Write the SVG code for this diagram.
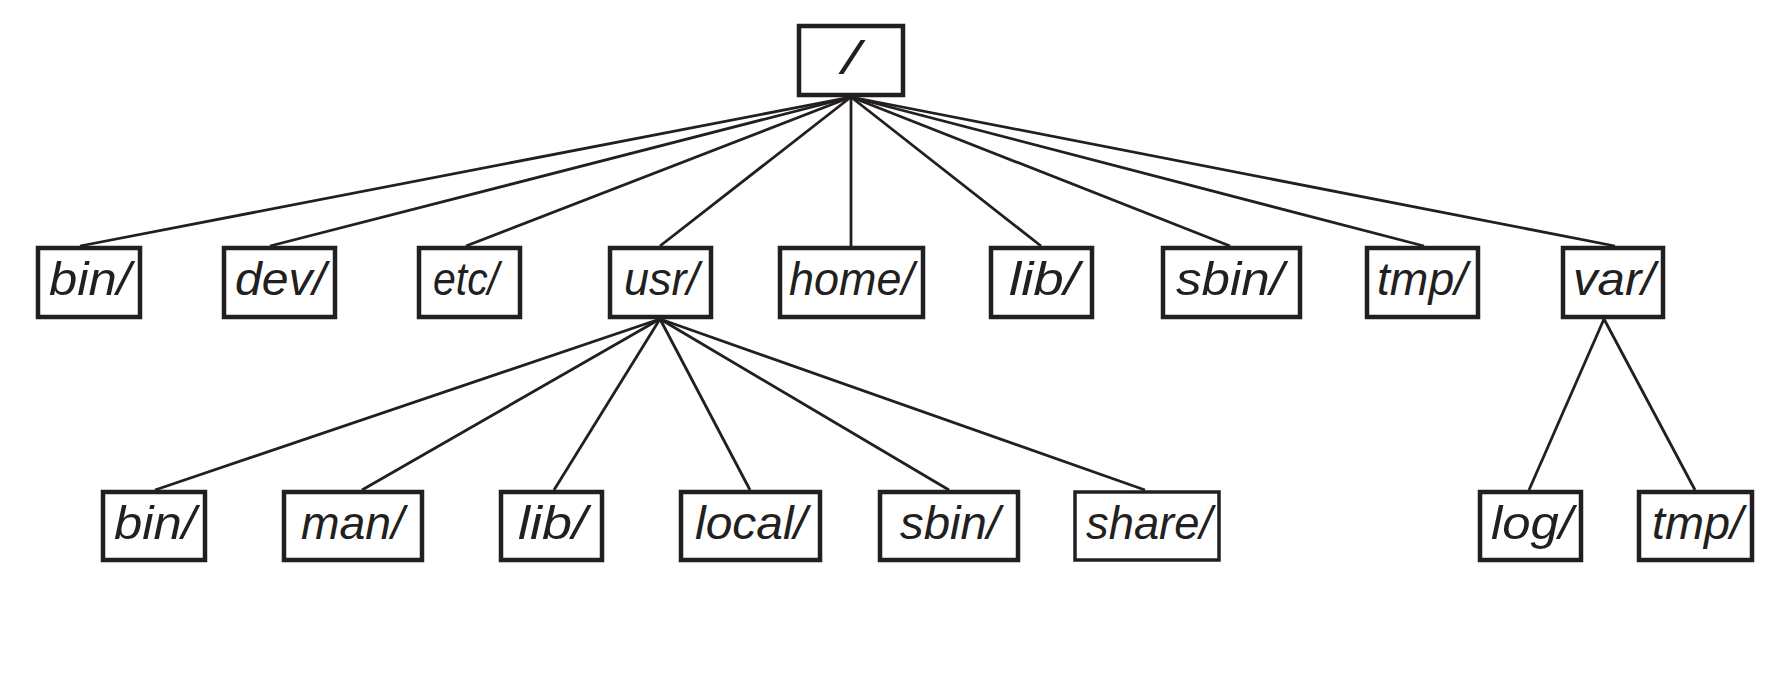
<svg xmlns="http://www.w3.org/2000/svg" width="1778" height="690" viewBox="0 0 1778 690">
<style>
.box{fill:#fff;stroke:#231f20;stroke-width:4.5}
.lbl{font-family:"Liberation Sans","Open Sans",sans-serif;font-style:italic;font-size:46px;fill:#231f20}
.edge{stroke:#231f20;stroke-width:2.8;fill:none}
</style>
<rect width="1778" height="690" fill="#fff"/>
<g id="connectors">
<line class="edge" x1="851" y1="97" x2="80" y2="246"/>
<line class="edge" x1="851" y1="97" x2="270" y2="246"/>
<line class="edge" x1="851" y1="97" x2="466" y2="246"/>
<line class="edge" x1="851" y1="97" x2="660" y2="246"/>
<line class="edge" x1="851" y1="97" x2="851" y2="246"/>
<line class="edge" x1="851" y1="97" x2="1041" y2="246"/>
<line class="edge" x1="851" y1="97" x2="1230" y2="246"/>
<line class="edge" x1="851" y1="97" x2="1424" y2="246"/>
<line class="edge" x1="851" y1="97" x2="1615" y2="246"/>
<line class="edge" x1="660" y1="319" x2="155" y2="490"/>
<line class="edge" x1="660" y1="319" x2="362" y2="490"/>
<line class="edge" x1="660" y1="319" x2="554" y2="490"/>
<line class="edge" x1="660" y1="319" x2="750" y2="490"/>
<line class="edge" x1="660" y1="319" x2="949" y2="490"/>
<line class="edge" x1="660" y1="319" x2="1145" y2="490"/>
<line class="edge" x1="1604" y1="319" x2="1529" y2="490"/>
<line class="edge" x1="1604" y1="319" x2="1695" y2="490"/>
</g>
<g id="root"><rect class="box" x="799" y="26" width="104" height="69"/><text class="lbl" x="842" y="74" textLength="18" lengthAdjust="spacingAndGlyphs">/</text></g>
<g id="bin"><rect class="box" x="38" y="248" width="102" height="69"/><text class="lbl" x="49" y="295" textLength="82" lengthAdjust="spacingAndGlyphs">bin/</text></g>
<g id="dev"><rect class="box" x="224" y="248" width="111" height="69"/><text class="lbl" x="235" y="295" textLength="91" lengthAdjust="spacingAndGlyphs">dev/</text></g>
<g id="etc"><rect class="box" x="419" y="248" width="101" height="69"/><text class="lbl" x="433" y="295" textLength="66" lengthAdjust="spacingAndGlyphs">etc/</text></g>
<g id="usr"><rect class="box" x="610" y="248" width="101" height="69"/><text class="lbl" x="624" y="295" textLength="75" lengthAdjust="spacingAndGlyphs">usr/</text></g>
<g id="home"><rect class="box" x="780" y="248" width="143" height="69"/><text class="lbl" x="789" y="295" textLength="125" lengthAdjust="spacingAndGlyphs">home/</text></g>
<g id="lib"><rect class="box" x="991" y="248" width="101" height="69"/><text class="lbl" x="1009" y="295" textLength="70" lengthAdjust="spacingAndGlyphs">lib/</text></g>
<g id="sbin"><rect class="box" x="1163" y="248" width="137" height="69"/><text class="lbl" x="1176" y="295" textLength="108" lengthAdjust="spacingAndGlyphs">sbin/</text></g>
<g id="tmp"><rect class="box" x="1367" y="248" width="111" height="69"/><text class="lbl" x="1377" y="295" textLength="90" lengthAdjust="spacingAndGlyphs">tmp/</text></g>
<g id="var"><rect class="box" x="1563" y="248" width="100" height="69"/><text class="lbl" x="1573" y="295" textLength="82" lengthAdjust="spacingAndGlyphs">var/</text></g>
<g id="usr-bin"><rect class="box" x="103" y="492" width="102" height="68"/><text class="lbl" x="114" y="539" textLength="82" lengthAdjust="spacingAndGlyphs">bin/</text></g>
<g id="usr-man"><rect class="box" x="284" y="492" width="138" height="68"/><text class="lbl" x="301" y="539" textLength="103" lengthAdjust="spacingAndGlyphs">man/</text></g>
<g id="usr-lib"><rect class="box" x="501" y="492" width="101" height="68"/><text class="lbl" x="518" y="539" textLength="69" lengthAdjust="spacingAndGlyphs">lib/</text></g>
<g id="usr-local"><rect class="box" x="681" y="492" width="139" height="68"/><text class="lbl" x="695" y="539" textLength="112" lengthAdjust="spacingAndGlyphs">local/</text></g>
<g id="usr-sbin"><rect class="box" x="880" y="492" width="138" height="68"/><text class="lbl" x="900" y="539" textLength="100" lengthAdjust="spacingAndGlyphs">sbin/</text></g>
<g id="usr-share"><rect class="box" x="1075" y="492" width="144" height="68" style="stroke-width:3.5"/><text class="lbl" x="1086" y="539" textLength="126" lengthAdjust="spacingAndGlyphs">share/</text></g>
<g id="var-log"><rect class="box" x="1480" y="492" width="101" height="68"/><text class="lbl" x="1491" y="539" textLength="82" lengthAdjust="spacingAndGlyphs">log/</text></g>
<g id="var-tmp"><rect class="box" x="1639" y="492" width="113" height="68"/><text class="lbl" x="1652" y="539" textLength="91" lengthAdjust="spacingAndGlyphs">tmp/</text></g>
</svg>
